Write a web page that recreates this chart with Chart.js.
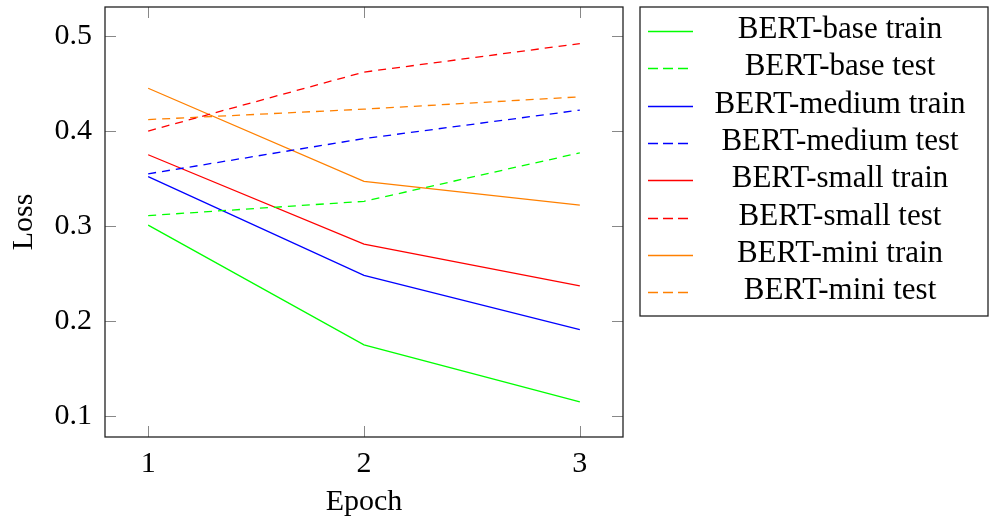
<!DOCTYPE html>
<html>
<head>
<meta charset="utf-8">
<script src="https://cdn.jsdelivr.net/npm/chart.js@4"></script>
<style>
  html, body { margin: 0; padding: 0; background: #fff; }
  #wrap { width: 989px; height: 522px; }
</style>
</head>
<body>
<div id="wrap"><canvas id="chart" width="989" height="522"></canvas></div>
<script>
const epochs = [1, 2, 3];
const yTicks = [0.1, 0.2, 0.3, 0.4, 0.5];

const baseTrain = [0.301, 0.175, 0.115];
const baseTest = [0.311, 0.326, 0.377];
const mediumTrain = [0.352, 0.248, 0.191];
const mediumTest = [0.355, 0.392, 0.422];
const smallTrain = [0.375, 0.281, 0.237];
const smallTest = [0.400, 0.462, 0.492];
const miniTrain = [0.445, 0.347, 0.322];
const miniTest = [0.412, 0.423, 0.436];

const FONT = "'Liberation Serif', 'DejaVu Serif', serif";
const DASH = [8, 6];

const series = [
  { label: "BERT-base train", data: baseTrain, color: "#00ff00", dashed: false },
  { label: "BERT-base test", data: baseTest, color: "#00ff00", dashed: true },
  { label: "BERT-medium train", data: mediumTrain, color: "#0000ff", dashed: false },
  { label: "BERT-medium test", data: mediumTest, color: "#0000ff", dashed: true },
  { label: "BERT-small train", data: smallTrain, color: "#ff0000", dashed: false },
  { label: "BERT-small test", data: smallTest, color: "#ff0000", dashed: true },
  { label: "BERT-mini train", data: miniTrain, color: "#ff8000", dashed: false },
  { label: "BERT-mini test", data: miniTest, color: "#ff8000", dashed: true },
];

// box + inward tick marks like pgfplots
const frame = {
  id: "frame",
  afterDatasetsDraw(chart) {
    const { ctx, chartArea: a, scales } = chart;
    ctx.save();
    ctx.strokeStyle = "#888";
    ctx.lineWidth = 1;
    ctx.beginPath();
    epochs.forEach((v) => {
      const x = Math.round(scales.x.getPixelForValue(v)) + 0.5;
      ctx.moveTo(x, a.bottom); ctx.lineTo(x, a.bottom - 11);
      ctx.moveTo(x, a.top); ctx.lineTo(x, a.top + 11);
    });
    yTicks.forEach((v) => {
      const y = Math.round(scales.y.getPixelForValue(v)) + 0.5;
      ctx.moveTo(a.left, y); ctx.lineTo(a.left + 11, y);
      ctx.moveTo(a.right, y); ctx.lineTo(a.right - 11, y);
    });
    ctx.stroke();
    ctx.strokeStyle = "#222";
    ctx.lineWidth = 1.3;
    ctx.strokeRect(a.left, a.top, a.right - a.left, a.bottom - a.top);
    ctx.restore();
  },
};

// pgfplots-style legend box to the right of the axis
const sideLegend = {
  id: "sideLegend",
  afterDraw(chart) {
    const { ctx } = chart;
    const left = 640, top = 7, right = 988, bottom = 316;
    const firstRow = 30, rowH = 37.3;
    ctx.save();
    ctx.strokeStyle = "#222";
    ctx.lineWidth = 1.3;
    ctx.strokeRect(left, top, right - left, bottom - top);
    ctx.font = "31px " + FONT;
    ctx.fillStyle = "#000";
    ctx.textAlign = "center";
    ctx.textBaseline = "middle";
    chart.data.datasets.forEach((ds, i) => {
      const cy = firstRow + rowH * i;
      const ly = Math.round(cy + 1) + 0.5;
      ctx.strokeStyle = ds.borderColor;
      ctx.lineWidth = 1.3;
      ctx.setLineDash(ds.borderDash.length ? [10, 5] : []);
      ctx.beginPath();
      ctx.moveTo(648, ly);
      ctx.lineTo(693, ly);
      ctx.stroke();
      ctx.setLineDash([]);
      ctx.fillText(ds.label, 840, cy);
    });
    ctx.restore();
  },
};

const noEdgePad = (scale) => {
  scale.paddingTop = 0; scale.paddingBottom = 0;
  scale.paddingLeft = 0; scale.paddingRight = 0;
};

new Chart(document.getElementById("chart"), {
  type: "line",
  data: {
    datasets: series.map((s) => ({
      label: s.label,
      data: epochs.map((e, i) => ({ x: e, y: s.data[i] })),
      borderColor: s.color,
      backgroundColor: s.color,
      borderWidth: 1.3,
      borderDash: s.dashed ? DASH : [],
      pointRadius: 0,
      tension: 0,
      fill: false,
    })),
  },
  options: {
    responsive: false,
    animation: false,
    layout: { padding: { left: 0, right: 366, top: 7, bottom: 0 } },
    plugins: { legend: { display: false }, tooltip: { enabled: false } },
    scales: {
      x: {
        type: "linear",
        min: 0.8,
        max: 3.2,
        afterBuildTicks: (scale) => { scale.ticks = epochs.map((v) => ({ value: v })); },
        afterFit: (scale) => { scale.height = 85; noEdgePad(scale); },
        grid: { display: false, drawTicks: false },
        border: { display: false },
        ticks: { color: "#000", padding: 9, font: { family: FONT, size: 30 } },
        title: {
          display: true, text: "Epoch", color: "#000",
          font: { family: FONT, size: 30 }, padding: { top: 0, bottom: 2 },
        },
      },
      y: {
        type: "linear",
        min: 0.078,
        max: 0.5305,
        afterBuildTicks: (scale) => { scale.ticks = yTicks.map((v) => ({ value: v })); },
        afterFit: (scale) => { scale.width = 105; noEdgePad(scale); },
        grid: { display: false, drawTicks: false },
        border: { display: false },
        ticks: {
          color: "#000", padding: 13, font: { family: FONT, size: 30 },
          callback: (v) => v.toFixed(1),
        },
        title: {
          display: true, text: "Loss", color: "#000",
          font: { family: FONT, size: 30 }, padding: { top: 6, bottom: 0 },
        },
      },
    },
  },
  plugins: [frame, sideLegend],
});
</script>
</body>
</html>
